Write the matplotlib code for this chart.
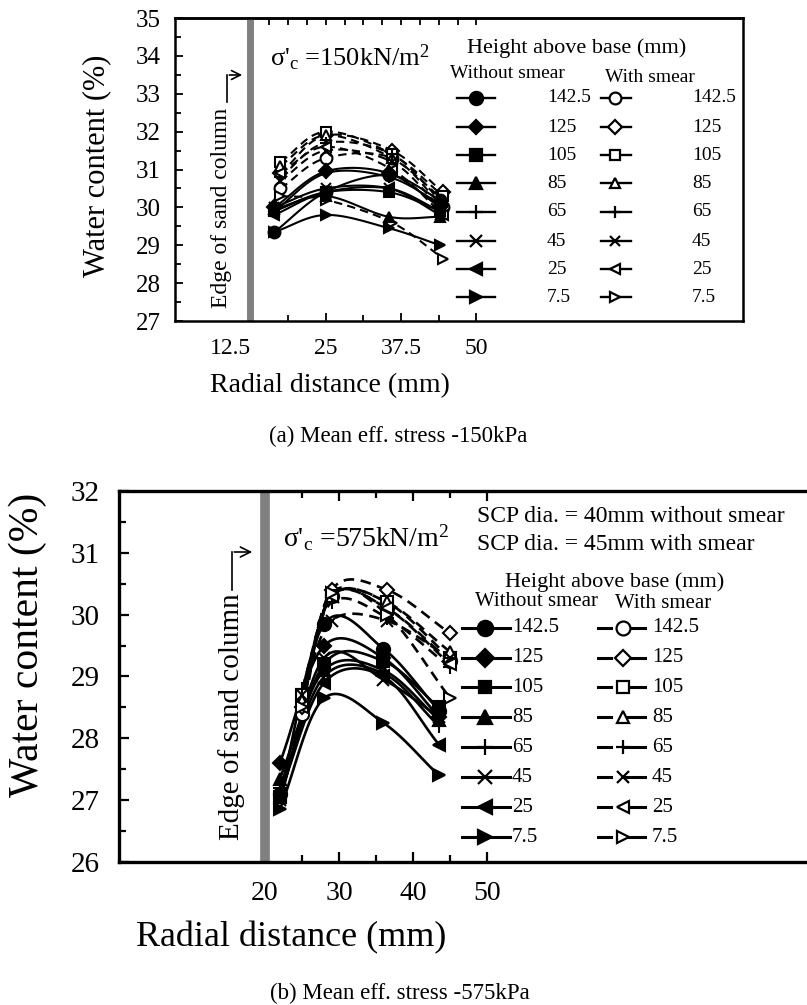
import numpy as np
import matplotlib
matplotlib.use("Agg")
import matplotlib.pyplot as plt
from matplotlib.lines import Line2D
from matplotlib.transforms import ScaledTranslation

plt.rcParams["font.family"] = ["Liberation Serif", "DejaVu Serif"]
plt.rcParams["mathtext.fontset"] = "custom"
plt.rcParams["mathtext.rm"] = "Liberation Serif"
plt.rcParams["mathtext.it"] = "Liberation Serif:italic"

W, H = 807, 1005

heights = ["142.5", "125", "105", "85", "65", "45", "25", "7.5"]
markers = ["o", "D", "s", "^", "+", "x", "<", ">"]
# diamonds and triangles drawn a touch smaller than circles
msize = {"o": 1.0, "D": 0.8, "s": 0.85, "^": 0.9, "+": 1.0, "x": 0.9, "<": 0.9, ">": 0.9}

# (a) 150 kPa
x_a_wo = [16.5, 25, 35.5, 44]
x_a_ws = [17.5, 25, 36, 44.5]
wc_a_wo = [
    [29.35, 30.4, 30.85, 30.2],
    [30.0, 30.95, 30.9, 30.0],
    [29.9, 30.4, 30.4, 29.9],
    [29.95, 30.3, 29.75, 29.75],
    [29.9, 30.9, 30.8, 30.1],
    [30.0, 30.5, 30.5, 29.8],
    [29.8, 30.4, 30.5, 29.9],
    [29.35, 29.8, 29.45, 29.0],
]
wc_a_ws = [
    [30.5, 31.3, 31.3, 30.0],
    [30.9, 31.9, 31.5, 30.4],
    [31.2, 32.0, 31.4, 30.3],
    [31.1, 31.9, 31.3, 30.2],
    [30.8, 31.7, 31.4, 30.1],
    [30.7, 31.5, 31.2, 29.9],
    [30.9, 31.6, 31.0, 29.8],
    [30.3, 30.2, 29.6, 28.65],
]

# (b) 575 kPa
x_b_wo = [22, 28, 36, 43.5]
x_b_ws = [25, 29, 36.5, 45]
wc_b_wo = [
    [27.1, 29.85, 29.45, 28.45],
    [27.6, 29.5, 29.3, 28.35],
    [27.05, 29.2, 29.25, 28.5],
    [27.35, 29.1, 29.1, 28.3],
    [27.2, 29.0, 29.05, 28.2],
    [27.0, 29.3, 28.95, 28.35],
    [27.1, 28.9, 29.0, 27.9],
    [26.85, 28.65, 28.25, 27.4],
]
wc_b_ws = [
    [28.4, 30.3, 30.1, 29.25],
    [28.5, 30.4, 30.4, 29.7],
    [28.7, 30.3, 30.2, 29.3],
    [28.6, 30.3, 30.2, 29.4],
    [28.8, 30.2, 29.95, 29.15],
    [28.7, 29.9, 29.9, 29.3],
    [28.5, 30.3, 30.1, 29.2],
    [28.5, 30.35, 30.0, 28.65],
]


def smooth(x, y, n=24):
    # Catmull-Rom path through the measured points (smoothed line)
    p = np.column_stack([x, y]).astype(float)
    p = np.vstack([2 * p[0] - p[1], p, 2 * p[-1] - p[-2]])
    t = np.linspace(0, 1, n, endpoint=False)[:, None]
    segs = []
    for i in range(1, len(p) - 2):
        p0, p1, p2, p3 = p[i - 1], p[i], p[i + 1], p[i + 2]
        segs.append(0.5 * (2 * p1 + (p2 - p0) * t
                           + (2 * p0 - 5 * p1 + 4 * p2 - p3) * t ** 2
                           + (-p0 + 3 * p1 - 3 * p2 + p3) * t ** 3))
    segs.append(p[-2:-1])
    s = np.vstack(segs)
    return s[:, 0], s[:, 1]


def pix(x, y):
    return (x, H - y)


def draw_series(ax, xs, ys, filled, lw, ms):
    for m, y in zip(markers, ys):
        sx, sy = smooth(xs, y)
        ls = "-" if filled else (0, (4, 2.5))
        ax.plot(sx, sy, color="black", lw=lw, ls=ls, zorder=3)
        fc = "black" if filled else "white"
        if m in ("+", "x"):
            fc = "black"
        ax.plot(xs, y, ls="none", marker=m, ms=ms * msize[m], mfc=fc, mec="black",
                mew=1.5, zorder=4)


def legend_row(x0, x1, xm, ry, m, ms, filled, lw, gap=None):
    fy = 1 - ry / H
    if gap is None:
        fig.add_artist(Line2D([x0 / W, x1 / W], [fy, fy], color="black", lw=lw,
                              transform=fig.transFigure))
    else:
        fig.add_artist(Line2D([x0 / W, gap[0] / W], [fy, fy], color="black", lw=lw,
                              transform=fig.transFigure))
        fig.add_artist(Line2D([gap[1] / W, x1 / W], [fy, fy], color="black", lw=lw,
                              transform=fig.transFigure))
    fc = "black" if filled or m in ("+", "x") else "white"
    fig.add_artist(Line2D([xm / W], [fy], marker=m, ms=ms * msize[m], mfc=fc,
                          mec="black", mew=1.6, transform=fig.transFigure))


fig = plt.figure(figsize=(W / 100, H / 100), dpi=100)

# ---------------- (a) ----------------
ax1 = fig.add_axes([175 / W, 1 - 321 / H, (743 - 175) / W, (321 - 18) / H])
ax1.set_xlim(0, (743 - 175) / 6.027)
ax1.set_ylim(27, 35)
ax1.axvline(12.5, color="#808080", lw=5, zorder=2)
draw_series(ax1, x_a_ws, wc_a_ws, False, 1.5, 8.5)
draw_series(ax1, x_a_wo, wc_a_wo, True, 1.5, 8.5)

ax1.set_xticks([12.5, 25, 37.5, 50])
ax1.set_xticklabels(["12.5", "25", "37.5", "50"])
ax1.set_xticks(np.arange(12.5, 50.1, 6.25), minor=True)
ax1.set_yticks(range(27, 36))
ax1.set_yticks(np.arange(27, 35.01, 0.5), minor=True)
ax1.tick_params(which="both", direction="in", width=1.3, top=False, right=False)
ax1.tick_params(which="major", length=6)
ax1.tick_params(which="minor", length=4)
ax1.tick_params(axis="x", labelsize=17, pad=12)
ax1.tick_params(axis="y", labelsize=18, pad=10)
lbl = ax1.get_xticklabels()[0]
lbl.set_transform(lbl.get_transform() + ScaledTranslation(-0.2, 0, fig.dpi_scale_trans))
top1 = ax1.secondary_xaxis("top")
top1.set_xticks(np.arange(12.5, 50.1, 3.125))
top1.tick_params(direction="in", length=5, width=1.3, labeltop=False)
for s in ax1.spines.values():
    s.set_linewidth(1.8)
top1.spines["top"].set_linewidth(1.8)

fig.text(97 / W, 1 - 166 / H, "Water content (%)", rotation=90, fontsize=22,
         ha="center", va="center")
fig.text(330 / W, 1 - 386 / H, "Radial distance (mm)", fontsize=20,
         ha="center", va="center")
fig.text(398 / W, 1 - 436 / H, "(a) Mean eff. stress -150kPa", fontsize=16.5,
         ha="center", va="center")
fig.text(270 / W, 1 - 58 / H, r"σ'$_\mathrm{c}$ =150kN/m$^2$", fontsize=19,
         ha="left", va="center")

fig.text(222 / W, 1 - 208 / H, "Edge of sand column", rotation=90, fontsize=17,
         ha="center", va="center")
fig.add_artist(Line2D([227 / W, 227 / W], [1 - 102 / H, 1 - 75 / H],
                      color="black", lw=1.2, transform=fig.transFigure))
ax1.annotate("", xy=pix(245, 75), xytext=pix(226.5, 75), xycoords="figure pixels",
             textcoords="figure pixels",
             arrowprops=dict(arrowstyle="->", lw=1.2, color="black", mutation_scale=16))

# legend (a)
fig.text(577 / W, 1 - 48 / H, "Height above base (mm)", fontsize=16,
         ha="center", va="center")
fig.text(450 / W, 1 - 73 / H, "Without smear", fontsize=14, ha="left", va="center")
fig.text(605 / W, 1 - 77 / H, "With smear", fontsize=14, ha="left", va="center")
rows_a = [98, 127, 155, 183, 212, 241, 269, 297]
for m, h, ry in zip(markers, heights, rows_a):
    legend_row(457, 495, 476, ry, m, 9.5, True, 1.7)
    fig.text(547 / W, 1 - ry / H, h, fontsize=14, ha="left", va="center")
    legend_row(601, 631, 615, ry, m, 8.5, False, 1.7)
    fig.text(692 / W, 1 - ry / H, h, fontsize=14, ha="left", va="center")

# ---------------- (b) ----------------
ax2 = fig.add_axes([119 / W, 1 - 862 / H, (820 - 119) / W, (862 - 491) / H])
ax2.set_xlim((119 - 117) / 7.4, (820 - 117) / 7.4)
ax2.set_ylim(26, 32)
ax2.axvline(20, color="#808080", lw=7, zorder=2)
draw_series(ax2, x_b_ws, wc_b_ws, False, 1.9, 9.5)
draw_series(ax2, x_b_wo, wc_b_wo, True, 1.9, 9.5)

ax2.set_xticks([20, 30, 40, 50])
ax2.set_xticks([25, 35, 45], minor=True)
ax2.set_yticks(range(26, 33))
ax2.set_yticks(np.arange(26, 32.01, 0.5), minor=True)
ax2.tick_params(which="both", direction="in", width=1.6, top=True, right=False)
ax2.tick_params(which="major", length=7)
ax2.tick_params(which="minor", length=5)
ax2.tick_params(axis="x", labelsize=20, pad=14)
ax2.tick_params(axis="y", labelsize=21, pad=14)
for s in ax2.spines.values():
    s.set_linewidth(2.4)
ax2.spines["right"].set_visible(False)

fig.text(28 / W, 1 - 645 / H, "Water content (%)", rotation=90, fontsize=30,
         ha="center", va="center")
fig.text(291 / W, 1 - 938 / H, "Radial distance (mm)", fontsize=26,
         ha="center", va="center")
fig.text(400 / W, 1 - 993 / H, "(b) Mean eff. stress -575kPa", fontsize=16.5,
         ha="center", va="center")
fig.text(283 / W, 1 - 538 / H, r"σ'$_\mathrm{c}$ =575kN/m$^2$", fontsize=20,
         ha="left", va="center")

fig.text(232 / W, 1 - 717 / H, "Edge of sand column", rotation=90, fontsize=21,
         ha="center", va="center")
fig.add_artist(Line2D([232 / W, 232 / W], [1 - 590 / H, 1 - 552 / H],
                      color="black", lw=1.2, transform=fig.transFigure))
ax2.annotate("", xy=pix(255, 552), xytext=pix(231.5, 552), xycoords="figure pixels",
             textcoords="figure pixels",
             arrowprops=dict(arrowstyle="->", lw=1.2, color="black", mutation_scale=18))

# legend (b)
fig.text(477 / W, 1 - 517 / H, "SCP dia. = 40mm without smear", fontsize=17,
         ha="left", va="center")
fig.text(477 / W, 1 - 545 / H, "SCP dia. = 45mm with smear", fontsize=17,
         ha="left", va="center")
fig.text(615 / W, 1 - 582 / H, "Height above base (mm)", fontsize=16,
         ha="center", va="center")
fig.text(475 / W, 1 - 601 / H, "Without smear", fontsize=15, ha="left", va="center")
fig.text(615 / W, 1 - 603 / H, "With smear", fontsize=15, ha="left", va="center")
rows_b = [628, 658, 687, 717, 747, 777, 807, 837]
for m, h, ry in zip(markers, heights, rows_b):
    legend_row(462, 510, 485, ry, m, 11, True, 2.2)
    fig.text(512 / W, 1 - ry / H, h, fontsize=15, ha="left", va="center")
    legend_row(598, 645, 623, ry, m, 10, False, 2.2, gap=(611, 625))
    fig.text(652 / W, 1 - ry / H, h, fontsize=15, ha="left", va="center")

fig.savefig("out.png", dpi=100)
